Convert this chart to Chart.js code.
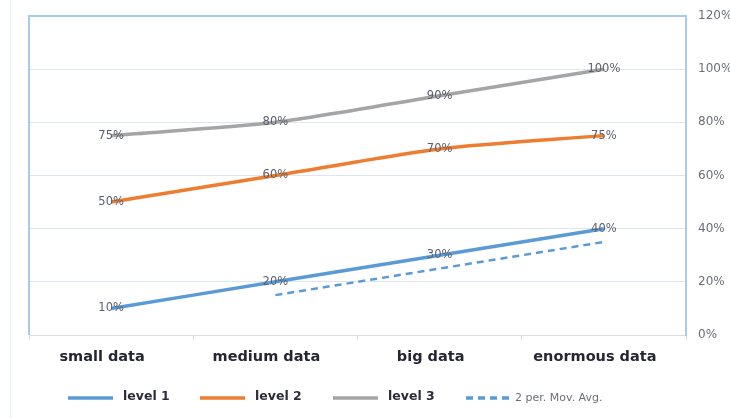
<!DOCTYPE html>
<html>
<head>
<meta charset="utf-8">
<script src="https://cdn.jsdelivr.net/npm/chart.js"></script>
<style>
  html, body { margin: 0; padding: 0; background: #fff; }
  #wrap { width: 730px; height: 418px; position: relative; }
</style>
</head>
<body>
<div id="wrap"><canvas id="myChart" width="730" height="418"></canvas></div>
<script>
const categories = ["small data", "medium data", "big data", "enormous data"];
const level1 = [10, 20, 30, 40];
const level2 = [50, 60, 70, 75];
const level3 = [75, 80, 90, 100];
const movAvg = [null, 15, 25, 35];
const yTicks = [0, 20, 40, 60, 80, 100, 120];

const BLUE = "#5b9bd5", ORANGE = "#ed7d31", GREY = "#a5a5a5";
const FONT = "'DejaVu Sans', Verdana, sans-serif";

// value labels sitting on the lines
const pointLabels = {
  id: "pointLabels",
  afterDatasetsDraw(chart) {
    const ctx = chart.ctx;
    ctx.save();
    ctx.font = "11.5px " + FONT;
    ctx.fillStyle = "#5a5f6b";
    ctx.textAlign = "center";
    ctx.textBaseline = "middle";
    chart.data.datasets.forEach((ds, i) => {
      if (!ds.showValues) return;
      chart.getDatasetMeta(i).data.forEach((pt, j) => {
        if (ds.data[j] == null) return;
        ctx.fillText(ds.data[j] + "%", pt.x, pt.y);
      });
    });
    ctx.restore();
  }
};

// blue frame on left and top of the plot area, faint outer frame line
const plotFrame = {
  id: "plotFrame",
  beforeDatasetsDraw(chart) {
    const { ctx, chartArea: a } = chart;
    ctx.save();
    ctx.strokeStyle = "#eaf0f7";
    ctx.lineWidth = 1.5;
    ctx.beginPath();
    ctx.moveTo(10.5, 0);
    ctx.lineTo(10.5, 418);
    ctx.stroke();
    ctx.strokeStyle = "#a9cbea";
    ctx.lineWidth = 2;
    ctx.beginPath();
    ctx.moveTo(a.left, a.bottom);
    ctx.lineTo(a.left, a.top);
    ctx.lineTo(a.right, a.top);
    ctx.stroke();
    ctx.restore();
  }
};

// legend row under the axis labels
const bottomLegend = {
  id: "bottomLegend",
  afterDraw(chart) {
    const ctx = chart.ctx;
    const starts = [68, 200, 333, 466];
    const y = 398;
    ctx.save();
    chart.data.datasets.forEach((ds, i) => {
      const x = starts[i];
      ctx.strokeStyle = ds.borderColor;
      ctx.lineWidth = 3.5;
      ctx.setLineDash(ds.borderDash || []);
      ctx.beginPath();
      ctx.moveTo(x, y);
      ctx.lineTo(x + 45, y);
      ctx.stroke();
      ctx.setLineDash([]);
      ctx.textBaseline = "middle";
      ctx.textAlign = "left";
      if (ds.showValues) {
        ctx.font = "bold 12.5px " + FONT;
        ctx.fillStyle = "#2b2b3a";
        ctx.fillText(ds.label, x + 55, y - 1);
      } else {
        ctx.font = "11px " + FONT;
        ctx.fillStyle = "#6b6f78";
        ctx.fillText(ds.label, x + 49, y);
      }
    });
    ctx.restore();
  }
};

const ctx = document.getElementById("myChart").getContext("2d");
new Chart(ctx, {
  type: "line",
  data: {
    labels: categories,
    datasets: [
      { label: "level 1", data: level1, borderColor: BLUE, backgroundColor: BLUE, borderWidth: 3.5, tension: 0.25, showValues: true },
      { label: "level 2", data: level2, borderColor: ORANGE, backgroundColor: ORANGE, borderWidth: 3.5, tension: 0.25, showValues: true },
      { label: "level 3", data: level3, borderColor: GREY, backgroundColor: GREY, borderWidth: 3.5, tension: 0.25, showValues: true },
      { label: "2 per. Mov. Avg.", data: movAvg, borderColor: BLUE, backgroundColor: BLUE, borderWidth: 2.5, borderDash: [7, 5], tension: 0, showValues: false }
    ]
  },
  options: {
    responsive: false,
    animation: false,
    layout: { padding: { left: 29, top: 16, right: 0, bottom: 0 } },
    elements: { point: { radius: 0, hoverRadius: 0 } },
    plugins: {
      legend: { display: false },
      tooltip: { enabled: false }
    },
    scales: {
      x: {
        offset: true,
        grid: { display: true, offset: true, drawOnChartArea: false, drawTicks: true, tickLength: 5, color: "#d9d9d9" },
        border: { color: "#d9dde3", width: 1 },
        ticks: {
          padding: 9,
          labelOffset: -9,
          color: "#262633",
          font: { family: FONT, size: 14.5, weight: "bold" }
        },
        afterFit(scale) { scale.height = 83; }
      },
      y: {
        position: "right",
        min: 0,
        max: 120,
        afterBuildTicks(scale) { scale.ticks = yTicks.map(v => ({ value: v })); },
        grid: { color: "#dde6f1", lineWidth: 1, drawTicks: false },
        border: { color: "#a9cbea", width: 2 },
        ticks: {
          padding: 12,
          color: "#6b6f78",
          font: { family: FONT, size: 12 },
          callback: v => v + "%"
        },
        afterFit(scale) {
          scale.width = 44;
          scale.paddingTop = 0;
          scale.paddingBottom = 0;
        }
      }
    }
  },
  plugins: [plotFrame, pointLabels, bottomLegend]
});
</script>
</body>
</html>
